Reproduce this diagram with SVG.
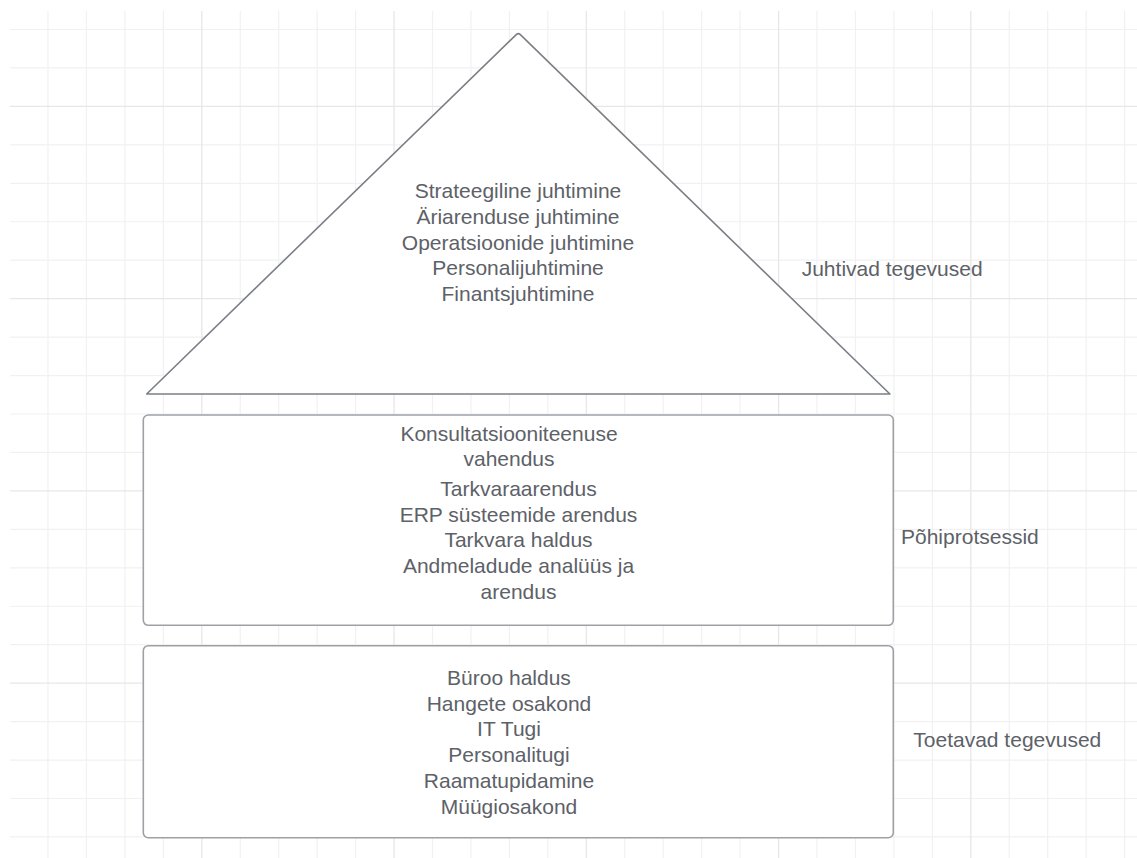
<svg xmlns="http://www.w3.org/2000/svg" width="1137" height="858" viewBox="0 0 1137 858">
  <style>
    .grid { stroke: #f1f1f1; stroke-width: 1.2; }
    .grid-major { stroke: #e7e7e7; stroke-width: 1.3; }
    .shape { fill: #ffffff; stroke: #9da1a6; stroke-width: 1.6; }
    .tri { fill: #ffffff; stroke: #7b7f85; stroke-width: 1.6; stroke-linejoin: round; }
    text { font-family: "Liberation Sans", Arial, sans-serif; font-size: 21px; fill: #5d6168; }
    .c { text-anchor: middle; }
  </style>
  <rect width="1137" height="858" fill="#ffffff"/>
  <!-- background grid -->
  <g id="grid">
    <g class="grid">
      <line x1="48" y1="11" x2="48" y2="858"/>
      <line x1="86.45" y1="11" x2="86.45" y2="858"/>
      <line x1="124.9" y1="11" x2="124.9" y2="858"/>
      <line x1="163.35" y1="11" x2="163.35" y2="858"/>
      <line x1="240.25" y1="11" x2="240.25" y2="858"/>
      <line x1="278.7" y1="11" x2="278.7" y2="858"/>
      <line x1="317.15" y1="11" x2="317.15" y2="858"/>
      <line x1="355.6" y1="11" x2="355.6" y2="858"/>
      <line x1="432.5" y1="11" x2="432.5" y2="858"/>
      <line x1="470.95" y1="11" x2="470.95" y2="858"/>
      <line x1="509.4" y1="11" x2="509.4" y2="858"/>
      <line x1="547.85" y1="11" x2="547.85" y2="858"/>
      <line x1="624.75" y1="11" x2="624.75" y2="858"/>
      <line x1="663.2" y1="11" x2="663.2" y2="858"/>
      <line x1="701.65" y1="11" x2="701.65" y2="858"/>
      <line x1="740.1" y1="11" x2="740.1" y2="858"/>
      <line x1="817" y1="11" x2="817" y2="858"/>
      <line x1="855.45" y1="11" x2="855.45" y2="858"/>
      <line x1="893.9" y1="11" x2="893.9" y2="858"/>
      <line x1="932.35" y1="11" x2="932.35" y2="858"/>
      <line x1="1009.25" y1="11" x2="1009.25" y2="858"/>
      <line x1="1047.7" y1="11" x2="1047.7" y2="858"/>
      <line x1="1086.15" y1="11" x2="1086.15" y2="858"/>
      <line x1="1124.6" y1="11" x2="1124.6" y2="858"/>
      <line x1="10" y1="29.5" x2="1137" y2="29.5"/>
      <line x1="10" y1="67.95" x2="1137" y2="67.95"/>
      <line x1="10" y1="144.85" x2="1137" y2="144.85"/>
      <line x1="10" y1="183.3" x2="1137" y2="183.3"/>
      <line x1="10" y1="221.75" x2="1137" y2="221.75"/>
      <line x1="10" y1="260.2" x2="1137" y2="260.2"/>
      <line x1="10" y1="337.1" x2="1137" y2="337.1"/>
      <line x1="10" y1="375.55" x2="1137" y2="375.55"/>
      <line x1="10" y1="414" x2="1137" y2="414"/>
      <line x1="10" y1="452.45" x2="1137" y2="452.45"/>
      <line x1="10" y1="529.35" x2="1137" y2="529.35"/>
      <line x1="10" y1="567.8" x2="1137" y2="567.8"/>
      <line x1="10" y1="606.25" x2="1137" y2="606.25"/>
      <line x1="10" y1="644.7" x2="1137" y2="644.7"/>
      <line x1="10" y1="721.6" x2="1137" y2="721.6"/>
      <line x1="10" y1="760.05" x2="1137" y2="760.05"/>
      <line x1="10" y1="798.5" x2="1137" y2="798.5"/>
      <line x1="10" y1="836.95" x2="1137" y2="836.95"/>
    </g>
    <g class="grid-major">
      <line x1="201.8" y1="11" x2="201.8" y2="858"/>
      <line x1="394.05" y1="11" x2="394.05" y2="858"/>
      <line x1="586.3" y1="11" x2="586.3" y2="858"/>
      <line x1="778.55" y1="11" x2="778.55" y2="858"/>
      <line x1="970.8" y1="11" x2="970.8" y2="858"/>
      <line x1="10" y1="106.4" x2="1137" y2="106.4"/>
      <line x1="10" y1="298.65" x2="1137" y2="298.65"/>
      <line x1="10" y1="490.9" x2="1137" y2="490.9"/>
      <line x1="10" y1="683.15" x2="1137" y2="683.15"/>
    </g>
  </g>

  <!-- no connectors in this diagram -->
  <g id="connectors"/>

  <!-- roof: management activities -->
  <g id="juhtivad">
    <path class="tri" d="M146.7 394 L516.5 34.4 Q518.3 32.7 520.1 34.4 L889.9 394 Z"/>
    <text class="c" x="518" y="198.3">Strateegiline juhtimine</text>
    <text class="c" x="518" y="224">Äriarenduse juhtimine</text>
    <text class="c" x="518" y="249.7">Operatsioonide juhtimine</text>
    <text class="c" x="518" y="275.4">Personalijuhtimine</text>
    <text class="c" x="518" y="301.1">Finantsjuhtimine</text>
  </g>
  <g id="label-juhtivad">
    <text x="801.7" y="275.7">Juhtivad tegevused</text>
  </g>

  <!-- middle block: core processes -->
  <g id="pohiprotsessid">
    <rect class="shape" x="143.3" y="415" width="750" height="210.3" rx="5"/>
    <text class="c" x="509" y="440.7">Konsultatsiooniteenuse</text>
    <text class="c" x="509" y="465.5">vahendus</text>
    <text class="c" x="518.5" y="496">Tarkvaraarendus</text>
    <text class="c" x="518.5" y="521.5">ERP süsteemide arendus</text>
    <text class="c" x="518.5" y="547.3">Tarkvara haldus</text>
    <text class="c" x="518.5" y="573.3">Andmeladude analüüs ja</text>
    <text class="c" x="518.5" y="599.3">arendus</text>
  </g>
  <g id="label-pohiprotsessid">
    <text x="901" y="544.3">Põhiprotsessid</text>
  </g>

  <!-- foundation: support activities -->
  <g id="toetavad">
    <rect class="shape" x="143.3" y="645.7" width="750" height="192" rx="5"/>
    <text class="c" x="509" y="685">Büroo haldus</text>
    <text class="c" x="509" y="710.7">Hangete osakond</text>
    <text class="c" x="509" y="736.4">IT Tugi</text>
    <text class="c" x="509" y="762.1">Personalitugi</text>
    <text class="c" x="509" y="787.8">Raamatupidamine</text>
    <text class="c" x="509" y="813.5">Müügiosakond</text>
  </g>
  <g id="label-toetavad">
    <text x="913.3" y="746.7">Toetavad tegevused</text>
  </g>
</svg>
